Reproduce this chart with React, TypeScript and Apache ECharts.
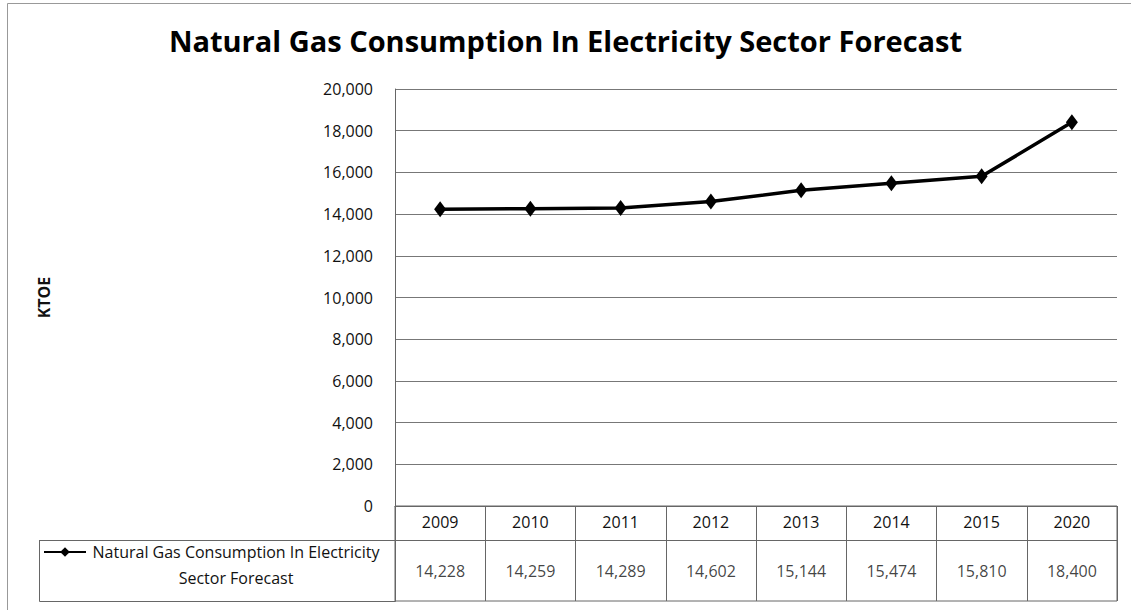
import React, { useEffect, useRef } from "react";
import * as echarts from "echarts";

// Yearly forecast of natural gas burned for power generation (KTOE)
const YEARS = ["2009", "2010", "2011", "2012", "2013", "2014", "2015", "2020"];
const CONSUMPTION = [14228, 14259, 14289, 14602, 15144, 15474, 15810, 18400];
const Y_TICKS = { min: 0, max: 20000, interval: 2000 };
const SERIES_NAME = "Natural Gas Consumption In Electricity Sector Forecast";
const LEGEND_LINES = ["Natural Gas Consumption In Electricity", "Sector Forecast"];
const TITLE = "Natural Gas Consumption In Electricity Sector Forecast";
const Y_NAME = "KTOE";

const FONT = "'Open Sans', 'Noto Sans', sans-serif";
const W = 1131;
const H = 610;

// layout (pixels)
const PLOT_LEFT = 395;
const PLOT_RIGHT = 1117;
const PLOT_TOP = 89;
const PLOT_BOTTOM = 506;
const HEADER_BOTTOM = 540;
const TABLE_BOTTOM = 601;
const LEGEND_LEFT = 39;
const LINE_COLOR = "#666";
const TEXT_COLOR = "#111";
const SMALL = 16;

const fmt = (v: number) => v.toLocaleString("en-US");

export default function App() {
  const ref = useRef<HTMLDivElement>(null);

  useEffect(() => {
    if (!ref.current) return;
    const chart = echarts.init(ref.current, null, { renderer: "svg" });
    const tableH = TABLE_BOTTOM - PLOT_BOTTOM;
    const headerH = HEADER_BOTTOM - PLOT_BOTTOM;
    const valueRowMid = headerH + (TABLE_BOTTOM - HEADER_BOTTOM) / 2;

    chart.setOption({
      animation: false,
      backgroundColor: "#fff",
      title: {
        text: TITLE,
        left: "center",
        top: 21,
        textStyle: { fontFamily: FONT, fontWeight: "bold", fontSize: 29, color: "#000" },
      },
      legend: {
        data: [SERIES_NAME],
        left: LEGEND_LEFT + 4,
        top: 544,
        padding: 0,
        itemWidth: 42,
        itemHeight: 12,
        itemGap: 0,
        lineStyle: { width: 2 },
        formatter: () => `{a|${LEGEND_LINES[0]}}\n{a|${LEGEND_LINES[1]}}`,
        textStyle: {
          padding: [26, 0, 0, 0],
          rich: {
            a: { fontFamily: FONT, fontSize: SMALL, color: TEXT_COLOR, width: 290, align: "center", lineHeight: 26 },
          },
        },
      },
      grid: [
        {
          left: PLOT_LEFT,
          top: PLOT_TOP,
          width: PLOT_RIGHT - PLOT_LEFT,
          height: PLOT_BOTTOM - PLOT_TOP,
        },
        {
          left: PLOT_LEFT,
          top: PLOT_BOTTOM,
          width: PLOT_RIGHT - PLOT_LEFT,
          height: tableH,
          show: true,
          borderColor: LINE_COLOR,
          borderWidth: 1,
          backgroundColor: "transparent",
        },
      ],
      xAxis: [
        {
          type: "category",
          gridIndex: 0,
          data: YEARS,
          boundaryGap: true,
          axisLine: { show: true, lineStyle: { color: LINE_COLOR, width: 1 } },
          axisTick: { show: false },
          axisLabel: { fontFamily: FONT, fontSize: SMALL, color: TEXT_COLOR, margin: 8 },
          splitLine: { show: false },
        },
        {
          type: "category",
          gridIndex: 1,
          data: YEARS,
          boundaryGap: true,
          axisLine: { show: false },
          axisTick: { show: false },
          axisLabel: { show: false },
          splitLine: { show: true, interval: 0, lineStyle: { color: LINE_COLOR, width: 1 } },
        },
      ],
      yAxis: [
        {
          type: "value",
          gridIndex: 0,
          min: Y_TICKS.min,
          max: Y_TICKS.max,
          interval: Y_TICKS.interval,
          name: Y_NAME,
          nameLocation: "middle",
          nameRotate: 90,
          nameGap: 343,
          nameTextStyle: { fontFamily: FONT, fontSize: 16, fontWeight: "bold", color: TEXT_COLOR },
          axisLine: { show: true, lineStyle: { color: LINE_COLOR, width: 1 } },
          axisTick: { show: false },
          axisLabel: {
            fontFamily: FONT,
            fontSize: SMALL,
            color: TEXT_COLOR,
            margin: 22,
            formatter: (v: number) => fmt(v),
          },
          splitLine: { show: true, lineStyle: { color: "#777", width: 1 } },
        },
        {
          type: "value",
          gridIndex: 1,
          min: 0,
          max: tableH,
          inverse: true,
          show: false,
          splitLine: { show: false },
        },
      ],
      series: [
        {
          name: SERIES_NAME,
          type: "line",
          xAxisIndex: 0,
          yAxisIndex: 0,
          data: CONSUMPTION,
          symbol: "diamond",
          symbolSize: [12, 16],
          lineStyle: { color: "#000", width: 3.5 },
          itemStyle: { color: "#000" },
        },
        {
          name: "table values",
          type: "scatter",
          xAxisIndex: 1,
          yAxisIndex: 1,
          silent: true,
          symbolSize: 0,
          data: CONSUMPTION.map((_, i) => [i, valueRowMid]),
          label: {
            show: true,
            position: "inside",
            formatter: (p: any) => fmt(CONSUMPTION[p.dataIndex]),
            fontFamily: FONT,
            fontSize: SMALL,
            color: TEXT_COLOR,
          },
        },
      ],
      graphic: [
        // page frame: top and left edges only
        {
          type: "polyline",
          shape: { points: [[7.5, H], [7.5, 3.5], [W, 3.5]] },
          style: { fill: "none", stroke: "#999", lineWidth: 1 },
          silent: true,
        },
        {
          type: "line",
          shape: { x1: LEGEND_LEFT, y1: HEADER_BOTTOM + 0.5, x2: PLOT_RIGHT, y2: HEADER_BOTTOM + 0.5 },
          style: { stroke: LINE_COLOR, lineWidth: 1 },
          silent: true,
        },
        {
          type: "rect",
          shape: {
            x: LEGEND_LEFT + 0.5,
            y: HEADER_BOTTOM + 0.5,
            width: PLOT_LEFT - LEGEND_LEFT,
            height: TABLE_BOTTOM - HEADER_BOTTOM,
          },
          style: { fill: "none", stroke: LINE_COLOR, lineWidth: 1 },
          silent: true,
        },
      ],
    });

    return () => chart.dispose();
  }, []);

  return (
    <div
      ref={ref}
      style={{ position: "fixed", left: 0, top: 0, width: W, height: H, background: "#fff" }}
    />
  );
}
